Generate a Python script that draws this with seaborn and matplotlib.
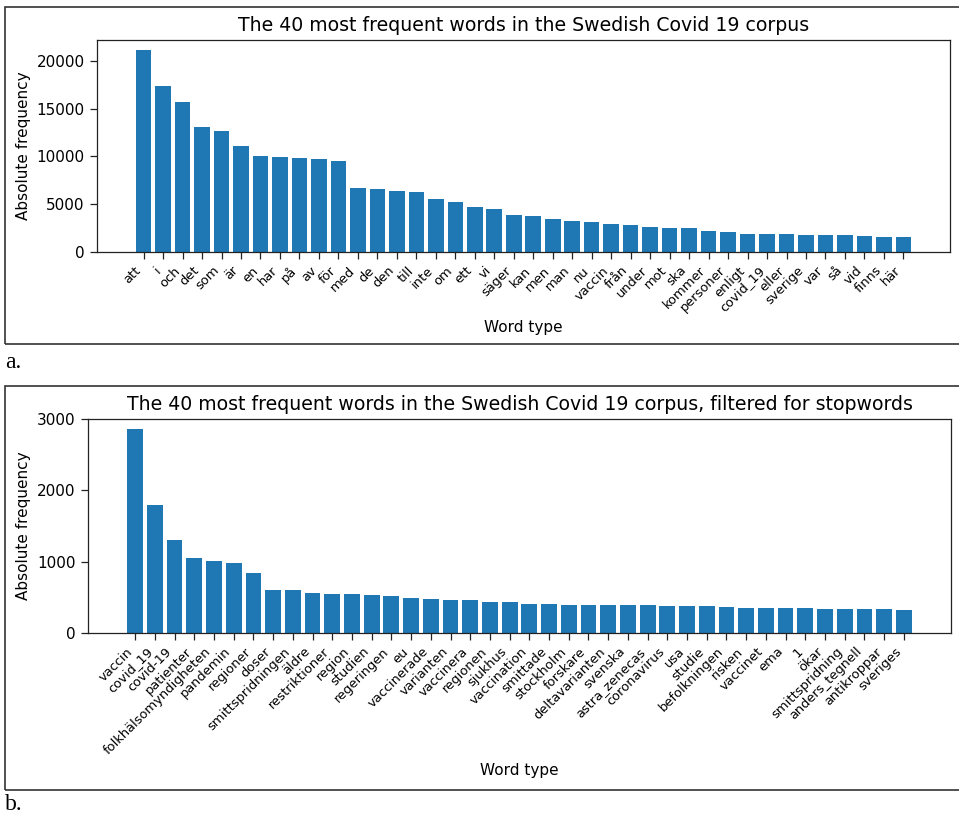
import matplotlib
matplotlib.use("Agg")
import matplotlib.pyplot as plt
from matplotlib.ticker import MultipleLocator
import seaborn as sns
import pandas as pd
from matplotlib.patches import Rectangle

# ---- data ----
words_all = ["att", "i", "och", "det", "som", "är", "en", "har", "på", "av",
             "för", "med", "de", "den", "till", "inte", "om", "ett", "vi", "säger",
             "kan", "men", "man", "nu", "vaccin", "från", "under", "mot", "ska", "kommer",
             "personer", "enligt", "covid_19", "eller", "sverige", "var", "så", "vid", "finns", "här"]
freq_all = [21120, 17350, 15670, 13050, 12630, 11060, 10020, 9910, 9810, 9700,
            9490, 6670, 6560, 6350, 6250, 5510, 5200, 4680, 4470, 3840,
            3730, 3420, 3210, 3110, 2900, 2790, 2580, 2480, 2480, 2160,
            2060, 1850, 1850, 1850, 1750, 1750, 1750, 1640, 1540, 1540]

words_filtered = ["vaccin", "covid_19", "covid-19", "patienter", "folkhälsomyndigheten",
                  "pandemin", "regioner", "doser", "smittspridningen", "äldre",
                  "restriktioner", "region", "studien", "regeringen", "eu",
                  "vaccinerade", "varianten", "vaccinera", "regionen", "sjukhus",
                  "vaccination", "smittade", "stockholm", "forskare", "deltavarianten",
                  "svenska", "astra_zenecas", "coronavirus", "usa", "studie",
                  "befolkningen", "risken", "vaccinet", "ema", "1",
                  "ökar", "smittspridning", "anders_tegnell", "antikroppar", "sveriges"]
freq_filtered = [2864, 1795, 1303, 1050, 1008, 980, 839, 600, 600, 558,
                 544, 544, 530, 516, 488, 473, 459, 459, 431, 431,
                 403, 403, 389, 389, 389, 389, 389, 375, 375, 375,
                 361, 347, 347, 347, 347, 333, 333, 333, 333, 319]

title_a = "The 40 most frequent words in the Swedish Covid 19 corpus"
title_b = "The 40 most frequent words in the Swedish Covid 19 corpus, filtered for stopwords"
xlabel = "Word type"
ylabel = "Absolute frequency"

W, H = 959, 816
fig = plt.figure(figsize=(W / 100, H / 100), dpi=100)


def px_axes(l, t, r, b):
    return fig.add_axes([l / W, 1 - b / H, (r - l) / W, (b - t) / H])


def panel(ax, words, freqs, title, ystep):
    df = pd.DataFrame({"word": words, "freq": freqs})
    sns.barplot(data=df, x="word", y="freq", color="#1f77b4", saturation=1,
                width=0.8, ax=ax)
    n = len(words)
    span = (n - 1) + 0.8
    ax.set_xlim(-0.4 - 0.05 * span, n - 1 + 0.4 + 0.05 * span)
    ax.set_ylim(0, max(freqs) * 1.05)
    ax.yaxis.set_major_locator(MultipleLocator(ystep))
    ax.tick_params(axis="both", length=5.3, width=0.9, color="#222222")
    ax.tick_params(axis="y", labelsize=11)
    ax.tick_params(axis="x", labelsize=9.4)
    plt.setp(ax.get_xticklabels(), rotation=45, ha="right")
    for s in ax.spines.values():
        s.set_linewidth(0.9)
        s.set_color("#222222")
    ax.set_title(title, fontsize=13.6, pad=6.6)
    ax.set_xlabel(xlabel, fontsize=11, labelpad=4.4)
    ax.set_ylabel(ylabel, fontsize=11, labelpad=4.4)
    ax.grid(False)


ax_a = px_axes(97, 40, 950, 251.7)
panel(ax_a, words_all, freq_all, title_a, 5000)
ax_b = px_axes(88, 418.7, 951, 632.7)
panel(ax_b, words_filtered, freq_filtered, title_b, 1000)

# panel frames
for (t, b) in [(6.7, 344.3), (385.7, 790)]:
    rect = Rectangle((4.5 / W, 1 - b / H), (970 - 4.5) / W, (b - t) / H,
                     transform=fig.transFigure, fill=False, edgecolor="#333333",
                     linewidth=1.2, clip_on=False)
    fig.patches.append(rect)

fig.text(5 / W, 1 - 368 / H, "a.", fontsize=17, family="Liberation Serif",
         ha="left", va="baseline")
fig.text(5 / W, 1 - 810 / H, "b.", fontsize=17, family="Liberation Serif",
         ha="left", va="baseline")

fig.savefig("out.png", dpi=100)
